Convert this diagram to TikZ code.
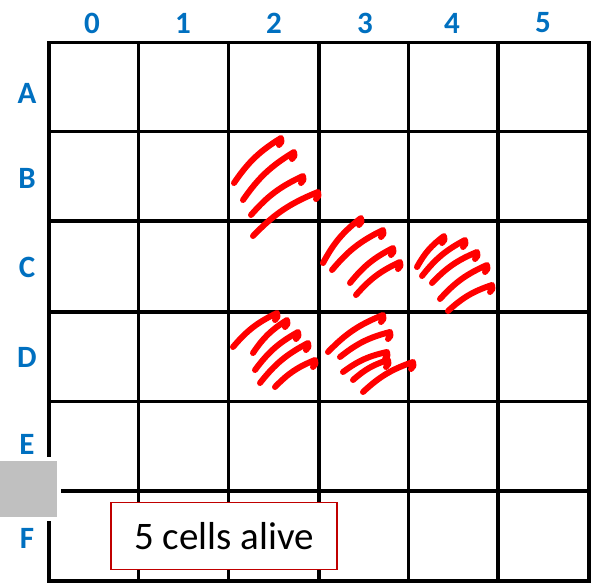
\documentclass[tikz,border=0pt]{standalone}
\usepackage{fontspec}
\setmainfont{Carlito}
\usetikzlibrary{calc}
\definecolor{labelblue}{HTML}{0070C0}
\definecolor{inkred}{HTML}{FF0000}
\definecolor{boxred}{HTML}{C00000}
\definecolor{padgrey}{HTML}{C0C0C0}
\tikzset{
  gridline/.style={draw=black,line width=3.4pt,line cap=rect},
  gridlabel/.style={font=\fontsize{31}{34}\selectfont\bfseries,text=labelblue,inner sep=0pt},
  scrib/.style={draw=inkred,line width=6pt,line cap=round,line join=round},
}
\newcommand{\hatchstroke}[4]{\draw[scrib] (#1,#2) to[bend left=12] (#3,#4) to[bend left=45] ++(-2,7);}

\begin{document}
\begin{tikzpicture}[x=1pt,y=-1pt]
\useasboundingbox (0,0) rectangle (597,583);
\fill[white] (0,0) rectangle (597,583);
\foreach \x in {49,138.5,228.5,319,408.5,498,589}
  \draw[gridline] (\x,42.5) -- (\x,581);
\foreach \y in {42.5,131.5,221,312,401.5,491,581}
  \draw[gridline] (49,\y) -- (589,\y);
\foreach \c/\x in {0/92,1/183,2/274,3/365,4/452,5/543}
  \node[gridlabel] (col\c) at (\x,23) {\c};
\foreach \r/\y in {A/93,B/178,C/267,D/357,E/444,F/538}
  \node[gridlabel] (row\r) at (27,\y) {\r};
\hatchstroke{234}{183}{281}{138}
\hatchstroke{243}{200}{294}{152}
\hatchstroke{251}{215}{303}{176}
\hatchstroke{253}{236}{318}{192}
\hatchstroke{323}{263}{361}{218}
\hatchstroke{332}{270}{383}{230}
\hatchstroke{350}{283}{393}{248}
\hatchstroke{356}{295}{400}{262}
\hatchstroke{417}{267}{444}{236}
\hatchstroke{422}{276}{465}{240}
\hatchstroke{432}{283}{477}{252}
\hatchstroke{440}{299}{487}{265}
\hatchstroke{448}{311}{492}{285}
\hatchstroke{233}{347}{277}{313}
\hatchstroke{253}{353}{287}{320}
\hatchstroke{255}{370}{298}{332}
\hatchstroke{260}{383}{308}{343}
\hatchstroke{275}{387}{315}{360}
\hatchstroke{328}{352}{383}{315}
\hatchstroke{340}{357}{390}{332}
\hatchstroke{343}{372}{387}{352}
\hatchstroke{353}{380}{388}{360}
\hatchstroke{363}{392}{413}{362}
\fill[white] (-4,457) rectangle (61,521);
\fill[padgrey] (0,461) rectangle (57,517);
\node[draw=boxred,line width=1.2pt,fill=white,minimum width=226pt,minimum height=67pt,
  font=\fontsize{39}{44}\selectfont,inner sep=0pt] (alive) at (224,536) {5 cells alive};
\end{tikzpicture}
\end{document}
